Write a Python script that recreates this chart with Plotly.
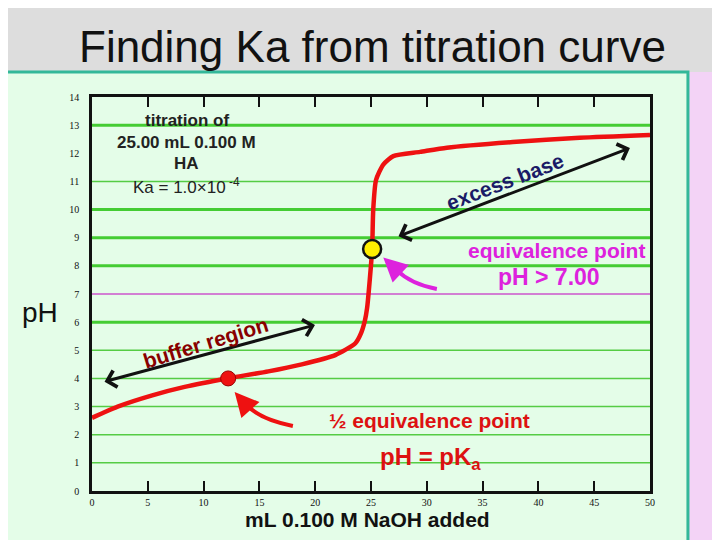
import plotly.graph_objects as go

# ---- data ----
volume_ml = [0, 2.3, 5.4, 8.3, 12.1, 15.8, 18.8, 21.8, 23.6, 24.1, 24.45, 24.65, 24.8,
             25.1, 25.2, 25.45, 26.1, 27.0, 29.4, 31.8, 37.7, 43.7, 50]
ph_values = [2.6, 3.0, 3.4, 3.7, 4.0, 4.25, 4.5, 4.83, 5.25, 5.6, 6.05, 6.5, 7.1,
             8.6, 10.0, 11.05, 11.6, 11.9, 12.05, 12.2, 12.4, 12.55, 12.65]
half_eq_point = (12.2, 4.0)
eq_point = (25.1, 8.6)
x_ticks = [0, 5, 10, 15, 20, 25, 30, 35, 40, 45, 50]
y_ticks = list(range(0, 15))
grid_thick = [13, 10, 9, 8, 6]
grid_thin = [11, 5, 4, 3, 2, 1]
neutral_ph = 7

ARIAL = "Arial, Liberation Sans, sans-serif"

fig = go.Figure()

fig.add_trace(go.Scatter(
    x=volume_ml, y=ph_values, mode="lines",
    line=dict(color="#ee1111", width=4.5, shape="spline", smoothing=0.6),
    hoverinfo="skip", showlegend=False))

fig.add_trace(go.Scatter(
    x=[half_eq_point[0]], y=[half_eq_point[1]], mode="markers",
    marker=dict(size=15, color="#ee1111", line=dict(color="#990000", width=1)),
    showlegend=False))
fig.add_trace(go.Scatter(
    x=[eq_point[0]], y=[eq_point[1]], mode="markers",
    marker=dict(size=18, color="#ffee00", line=dict(color="#111111", width=2.5)),
    showlegend=False))

shapes = []
# slide panel (paper coords)
shapes.append(dict(type="rect", xref="paper", yref="paper",
                   x0=1.07, x1=1.16, y0=-0.13, y1=1.0635,
                   fillcolor="#f3d3f6", line=dict(width=0), layer="below"))
shapes.append(dict(type="rect", xref="paper", yref="paper",
                   x0=-0.17, x1=1.068, y0=-0.14, y1=1.0635,
                   fillcolor="#e4fde8", line=dict(color="#33b899", width=3),
                   layer="below"))
for g in grid_thick:
    shapes.append(dict(type="line", xref="paper", yref="y", x0=0, x1=1, y0=g, y1=g,
                       line=dict(color="#44cc33", width=3), layer="below"))
for g in grid_thin:
    shapes.append(dict(type="line", xref="paper", yref="y", x0=0, x1=1, y0=g, y1=g,
                       line=dict(color="#55cc44", width=1.5), layer="below"))
shapes.append(dict(type="line", xref="paper", yref="y", x0=0, x1=1,
                   y0=neutral_ph, y1=neutral_ph,
                   line=dict(color="#cc55cc", width=1.5), layer="below"))
# curved arrow bodies
shapes.append(dict(type="path", xref="x", yref="y",
                   path="M 18.0,2.31 Q 15.0,2.55 13.9,3.05",
                   line=dict(color="#ee1111", width=4)))
shapes.append(dict(type="path", xref="x", yref="y",
                   path="M 30.9,7.18 Q 28.6,7.35 27.3,7.85",
                   line=dict(color="#dd22dd", width=4)))

ann = []
# double-headed arrows
ann.append(dict(x=48.2, y=12.19, ax=27.33, ay=9.03, xref="x", yref="y",
                axref="x", ayref="y", text="", showarrow=True, arrowhead=4,
                arrowside="end+start", arrowsize=1.1, arrowwidth=3,
                arrowcolor="#111111"))
ann.append(dict(x=19.98, y=5.9, ax=0.99, ay=3.87, xref="x", yref="y",
                axref="x", ayref="y", text="", showarrow=True, arrowhead=4,
                arrowside="end+start", arrowsize=1.1, arrowwidth=3,
                arrowcolor="#111111"))
# curved arrow heads
ann.append(dict(x=12.78, y=3.52, ax=14, ay=16, xref="x", yref="y", text="",
                showarrow=True, arrowhead=2, arrowsize=1.2, arrowwidth=4,
                arrowcolor="#ee1111"))
ann.append(dict(x=26.1, y=8.3, ax=15, ay=14, xref="x", yref="y", text="",
                showarrow=True, arrowhead=2, arrowsize=1.2, arrowwidth=4,
                arrowcolor="#dd22dd"))

info_lines = ["<b>titration of</b>", "<b>25.00 mL 0.100 M</b>", "<b>HA</b>",
              "Ka = 1.0×10<sup> -4</sup>"]
info_y = [13.15, 12.37, 11.62, 10.84]
for t, yy in zip(info_lines, info_y):
    ann.append(dict(x=8.5, y=yy, xref="x", yref="y", text=t, showarrow=False,
                    font=dict(family=ARIAL, size=17, color="#222222")))

ann.append(dict(x=37.0, y=11.0, xref="x", yref="y", text="<b>excess base</b>",
                textangle=-21, showarrow=False,
                font=dict(family=ARIAL, size=21, color="#1a1a66")))
ann.append(dict(x=10.2, y=5.26, xref="x", yref="y", text="<b>buffer region</b>",
                textangle=-17, showarrow=False,
                font=dict(family=ARIAL, size=21, color="#880000")))
ann.append(dict(x=41.6, y=8.53, xref="x", yref="y", text="<b>equivalence point</b>",
                showarrow=False, font=dict(family=ARIAL, size=21, color="#dd22dd")))
ann.append(dict(x=40.95, y=7.6, xref="x", yref="y", text="<b>pH &gt; 7.00</b>",
                showarrow=False, font=dict(family=ARIAL, size=23, color="#dd22dd")))
ann.append(dict(x=30.2, y=2.52, xref="x", yref="y", text="<b>½ equivalence point</b>",
                showarrow=False, font=dict(family=ARIAL, size=21, color="#dd1111")))
ann.append(dict(x=30.3, y=1.15, xref="x", yref="y", text="<b>pH = pK<sub>a</sub></b>",
                showarrow=False, font=dict(family=ARIAL, size=24, color="#dd1111")))
ann.append(dict(x=-0.093, y=0.452, xref="paper", yref="paper", text="pH",
                xanchor="center", yanchor="middle", showarrow=False,
                font=dict(family=ARIAL, size=28, color="#111111")))
ann.append(dict(x=0.493, y=-0.073, xref="paper", yref="paper",
                text="<b>mL 0.100 M NaOH added</b>", showarrow=False,
                xanchor="center", yanchor="middle",
                font=dict(family=ARIAL, size=21, color="#111111")))
ann.append(dict(x=0.502, y=1.127, xref="paper", yref="paper",
                text="Finding Ka from titration curve", showarrow=False,
                xanchor="center", yanchor="middle",
                font=dict(family=ARIAL, size=44, color="#111111")))

fig.update_layout(
    width=712, height=532,
    margin=dict(l=84, r=70, t=89, b=49),
    paper_bgcolor="#dddddd", plot_bgcolor="#fffff0",
    shapes=shapes, annotations=ann, showlegend=False,
    xaxis=dict(range=[0, 50], tickvals=x_ticks, ticks="inside", ticklen=10,
               tickwidth=1.5, tickcolor="#111111", showgrid=False, zeroline=False,
               showline=True, linewidth=2.5, linecolor="#111111", mirror="ticks",
               tickfont=dict(family="Liberation Serif, serif", size=10, color="#111111")),
    yaxis=dict(range=[0, 14], tickvals=y_ticks, ticks="", showgrid=False,
               zeroline=False, showline=True, linewidth=2.5, linecolor="#111111",
               mirror=True, ticklabelstandoff=8,
               tickfont=dict(family="Liberation Serif, serif", size=10, color="#111111")),
)

fig.write_html("out.html")
